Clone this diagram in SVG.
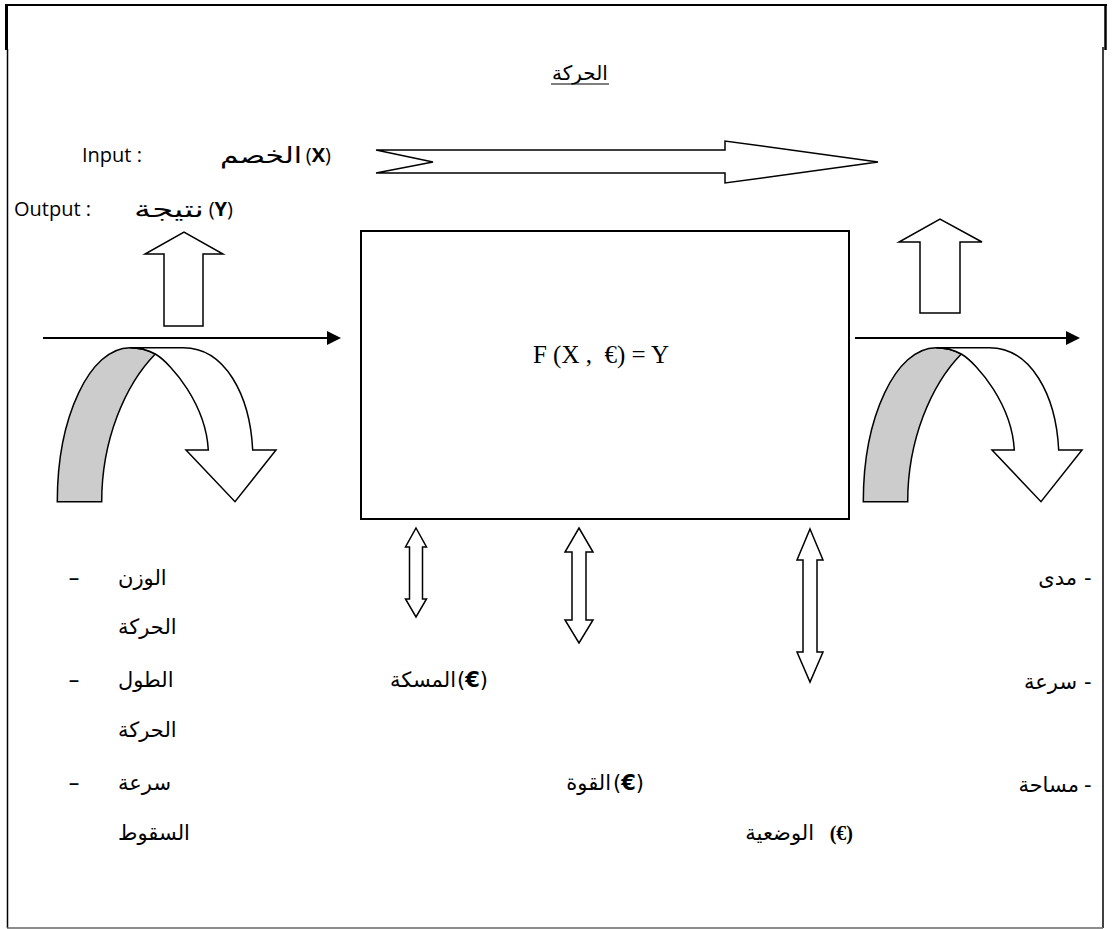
<svg xmlns="http://www.w3.org/2000/svg" width="1112" height="929" viewBox="0 0 1112 929">
<style>
.ar{font-family:"DejaVu Sans",sans-serif;font-size:21px;fill:#000}
.t{font-size:20px}
.big{font-size:23px}
.lat{font-family:"Open Sans","DejaVu Sans",sans-serif;font-size:20px;fill:#000}
.ser{font-family:"Liberation Serif",serif;fill:#000}
.b{font-weight:bold}
.bl{fill:#fff;stroke:#000;stroke-width:1.5;stroke-linejoin:miter}
.gr{fill:#cccccc;stroke:#000;stroke-width:1.5}
.ln{stroke:#000;stroke-width:2;fill:none}
</style>
<defs>
<marker id="ah" markerWidth="14" markerHeight="14" refX="0" refY="7" orient="auto" markerUnits="userSpaceOnUse">
<path d="M0,0 L14,7 L0,14 Z" fill="#000"/>
</marker>
<g id="curl">
<path class="gr" d="M57.3,501.7 C57.3,416.7 90,347.7 130,347.7 C140,347.7 148,350 155.3,354 C125,385 101.7,440 101.7,501.7 Z"/>
<path class="bl" d="M130,347.7 L183.3,347.7 C225,347.7 250,395 252.7,450 L276,450 L235,501.7 L186,450 L208.3,450 C206,405 172,364 155.3,354 C148,350 140,347.7 130,347.7 Z"/>
</g>
</defs>
<rect width="1112" height="929" fill="#fff"/>

<g id="frame" stroke="#000" fill="none">
<line x1="5" y1="5" x2="1107" y2="5" stroke-width="2"/>
<line x1="6.5" y1="4" x2="6.5" y2="50" stroke-width="3"/>
<line x1="7.5" y1="49" x2="7.5" y2="928" stroke-width="1.5"/>
<line x1="1105.5" y1="4" x2="1105.5" y2="50" stroke-width="2.5"/>
<line x1="1103" y1="47" x2="1103" y2="928" stroke-width="1.5"/>
<line x1="7" y1="928" x2="1103" y2="928" stroke="#666" stroke-width="1.5"/>
</g>

<g id="title">
<text class="ar t" x="580" y="80" text-anchor="middle">الحركة</text>
<line x1="551" y1="84" x2="609" y2="84" stroke="#000" stroke-width="1.2"/>
</g>

<g id="input-label">
<text class="lat" x="82" y="162">Input :</text>
<text class="ar big" x="220" y="163" textLength="82" lengthAdjust="spacingAndGlyphs">الخصم</text>
<text class="lat" x="331" y="162" text-anchor="end" font-size="21">(<tspan class="b">X</tspan>)</text>
</g>

<g id="output-label">
<text class="lat" x="14" y="216">Output :</text>
<text class="ar big" x="134" y="217" textLength="70" lengthAdjust="spacingAndGlyphs">نتيجة</text>
<text class="lat" x="233" y="216" text-anchor="end" font-size="21">(<tspan class="b">Y</tspan>)</text>
</g>

<g id="process-box">
<rect x="361" y="231" width="488" height="288" fill="none" stroke="#000" stroke-width="2"/>
<text class="ser" x="601" y="363" font-size="25" text-anchor="middle" xml:space="preserve">F (X ,  €) = Y</text>
</g>

<g id="connectors">
<path class="bl" d="M376,150 L725,150 L725,141 L878,162 L725,183 L725,173 L376,173 L433,162 Z"/>
<path class="bl" d="M164,326 L164,254 L145,254 L184,232 L223,254 L203,254 L203,326 Z"/>
<path class="bl" d="M920,313 L920,242 L899,242 L940,219 L982,242 L960,242 L960,313 Z"/>
<line class="ln" x1="43" y1="338" x2="327" y2="338" marker-end="url(#ah)"/>
<line class="ln" x1="855" y1="338" x2="1066" y2="338" marker-end="url(#ah)"/>
<use href="#curl"/>
<use href="#curl" transform="translate(806,0)"/>
<path class="bl" d="M416,528 L426.5,547 L422.5,547 L422.5,599 L426.5,599 L416,617 L405.5,599 L409.5,599 L409.5,547 L405.5,547 Z"/>
<path class="bl" d="M579,528 L593,552 L586,552 L586,620 L593,620 L579,643 L565,620 L572,620 L572,552 L565,552 Z"/>
<path class="bl" d="M810,529 L823,560 L817,560 L817,652 L823,652 L810,682 L797,652 L803,652 L803,560 L797,560 Z"/>
</g>

<g id="left-list">
<text class="ar" x="68" y="585" textLength="12" lengthAdjust="spacingAndGlyphs">-</text>
<text class="ar" x="118" y="585">الوزن</text>
<text class="ar" x="118" y="634">الحركة</text>
<text class="ar" x="68" y="687" textLength="12" lengthAdjust="spacingAndGlyphs">-</text>
<text class="ar" x="118" y="687">الطول</text>
<text class="ar" x="118" y="737">الحركة</text>
<text class="ar" x="68" y="790" textLength="12" lengthAdjust="spacingAndGlyphs">-</text>
<text class="ar" x="118" y="790">سرعة</text>
<text class="ar" x="118" y="840">السقوط</text>
</g>

<g id="middle-list">
<text class="ar" x="456" y="687" text-anchor="end">المسكة</text>
<text class="ar" x="488" y="687" text-anchor="end">(<tspan class="b">€</tspan>)</text>
<text class="ar" x="611" y="790" text-anchor="end">القوة</text>
<text class="ar" x="644" y="790" text-anchor="end">(<tspan class="b">€</tspan>)</text>
<text class="ar" x="814" y="840" text-anchor="end">الوضعية</text>
<text class="ser b" x="853" y="840" font-size="20" text-anchor="end">(€)</text>
</g>

<g id="right-list">
<text class="ar" x="1077" y="585" text-anchor="end">مدى</text>
<text class="ar" x="1084" y="585">-</text>
<text class="ar" x="1077" y="689" text-anchor="end">سرعة</text>
<text class="ar" x="1084" y="689">-</text>
<text class="ar" x="1079" y="792" text-anchor="end">مساحة</text>
<text class="ar" x="1084" y="792">-</text>
</g>
</svg>
